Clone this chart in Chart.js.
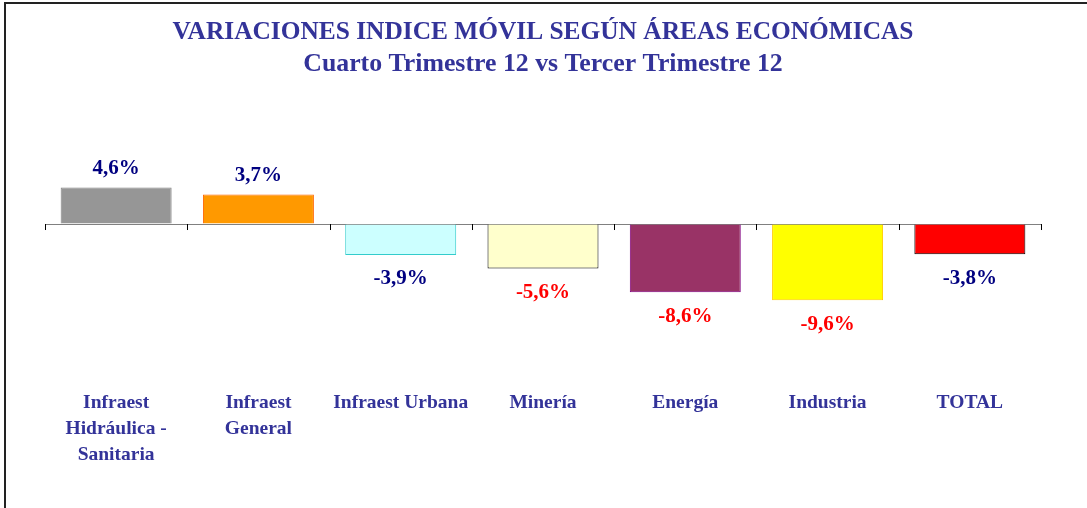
<!DOCTYPE html>
<html>
<head>
<meta charset="utf-8">
<script src="https://cdn.jsdelivr.net/npm/chart.js@4/dist/chart.umd.min.js"></script>
<style>
  html, body { margin: 0; padding: 0; background: #fff; overflow: hidden; }
  canvas { display: block; }
</style>
</head>
<body>
<canvas id="chart" width="1087" height="508"></canvas>
<script>
// datos
const categorias = [
  ['Infraest', 'Hidráulica -', 'Sanitaria'],
  ['Infraest', 'General'],
  'Infraest Urbana',
  'Minería',
  'Energía',
  'Industria',
  'TOTAL'
];
const variaciones = [4.6, 3.7, -3.9, -5.6, -8.6, -9.6, -3.8];

const rellenos = ['#969696', '#FF9900', '#CCFFFF', '#FFFFCC', '#993366', '#FFFF00', '#FF0000'];
const bordes = ['#808080', '#FF6600', '#33CCCC', '#000000', '#800080', '#FFCC00', '#000000'];
const coloresEtiqueta = ['#000080', '#000080', '#000080', '#FF0000', '#FF0000', '#FF0000', '#000080'];

const serif = "'Liberation Serif', 'Times New Roman', serif";

// marco del grafico (solo borde izquierdo y superior visibles)
const marco = {
  id: 'marco',
  beforeDraw(chart) {
    const ctx = chart.ctx;
    ctx.save();
    ctx.strokeStyle = '#222';
    ctx.lineWidth = 2;
    ctx.beginPath();
    ctx.moveTo(5, chart.height);
    ctx.lineTo(5, 3);
    ctx.lineTo(chart.width, 3);
    ctx.stroke();
    ctx.restore();
  }
};

// rayitas bajo el eje cero y etiquetas de valor
const ejeCero = {
  id: 'ejeCero',
  afterDatasetsDraw(chart) {
    const { ctx, scales: { x, y } } = chart;
    const y0 = y.getPixelForValue(0);
    const paso = x.getPixelForTick(1) - x.getPixelForTick(0);
    ctx.save();
    ctx.strokeStyle = '#000';
    ctx.lineWidth = 1;
    for (let i = 0; i <= categorias.length; i++) {
      const px = Math.round(x.getPixelForTick(0) - paso / 2 + i * paso) + 0.5;
      ctx.beginPath();
      ctx.moveTo(px, y0);
      ctx.lineTo(px, y0 + 6);
      ctx.stroke();
    }
    const meta = chart.getDatasetMeta(0);
    ctx.font = 'bold 21px ' + serif;
    ctx.textAlign = 'center';
    ctx.textBaseline = 'middle';
    meta.data.forEach((bar, i) => {
      const v = variaciones[i];
      const txt = v.toFixed(1).replace('.', ',') + '%';
      ctx.fillStyle = coloresEtiqueta[i];
      const py = v >= 0 ? bar.y - 19 : bar.y + 24;
      ctx.fillText(txt, bar.x, py);
    });
    ctx.restore();
  }
};

new Chart(document.getElementById('chart'), {
  type: 'bar',
  data: {
    labels: categorias,
    datasets: [{
      data: variaciones,
      backgroundColor: rellenos,
      borderColor: bordes,
      borderWidth: 1,
      barPercentage: 0.78,
      categoryPercentage: 1
    }]
  },
  options: {
    responsive: false,
    animation: false,
    layout: { padding: { left: 45, right: 46, top: 0, bottom: 32 } },
    plugins: {
      legend: { display: false },
      tooltip: { enabled: false },
      title: {
        display: true,
        text: 'VARIACIONES INDICE MÓVIL SEGÚN ÁREAS ECONÓMICAS',
        color: '#333399',
        font: { family: serif, size: 25.4, weight: 'bold' },
        padding: { top: 17, bottom: 1 }
      },
      subtitle: {
        display: true,
        text: 'Cuarto Trimestre 12 vs Tercer Trimestre 12',
        color: '#333399',
        font: { family: serif, size: 25.8, weight: 'bold' },
        padding: { top: 0, bottom: 54 }
      }
    },
    scales: {
      x: {
        grid: { display: false },
        border: { display: false },
        ticks: {
          color: '#333399',
          font: { family: serif, size: 19.5, weight: 'bold', lineHeight: 1.33 },
          padding: 8,
          maxRotation: 0,
          autoSkip: false
        }
      },
      y: {
        min: -18.9,
        max: 11.4,
        border: { display: false },
        ticks: { display: false, stepSize: 1 },
        grid: {
          drawTicks: false,
          lineWidth: 1,
          color: (c) => (c.tick && c.tick.value === 0 ? '#808080' : 'rgba(0,0,0,0)')
        }
      }
    }
  },
  plugins: [marco, ejeCero]
});
</script>
</body>
</html>
